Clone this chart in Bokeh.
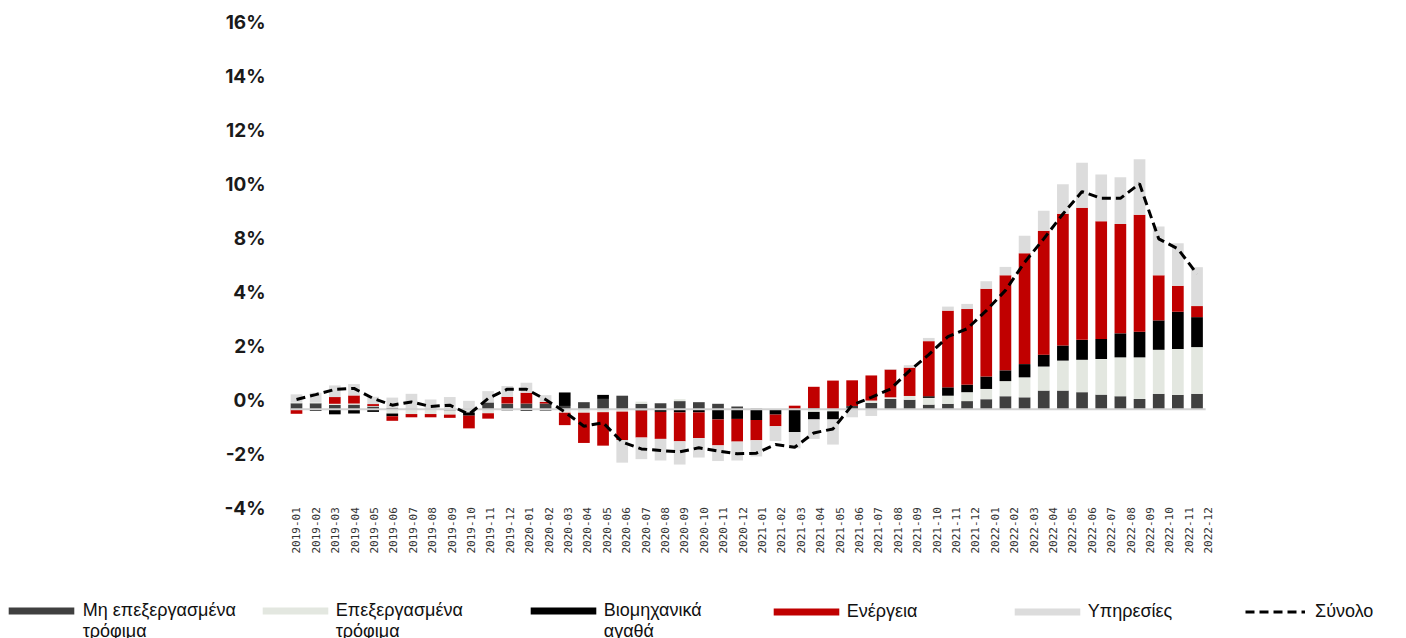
import numpy as np
from bokeh.plotting import figure
from bokeh.models import Range1d, LinearAxis, FixedTicker, Legend, LegendItem
from bokeh.embed import file_html
from bokeh.resources import INLINE

months = [f"{y}-{m:02d}" for y in range(2019, 2023) for m in range(1, 13)]

unprocessed = [0.22, 0.22, 0.16, 0.17, 0.10, 0.05, 0.02, 0.02, -0.05, 0.00, 0.25, 0.20,
               0.21, 0.21, 0.12, 0.26, 0.38, 0.50, 0.20, 0.22, 0.30, 0.26, 0.20, 0.10,
               0.02, 0.00, 0.00, 0.04, 0.00, 0.12, 0.23, 0.38, 0.35, 0.17, 0.20, 0.30,
               0.37, 0.48, 0.44, 0.69, 0.69, 0.63, 0.54, 0.48, 0.38, 0.57, 0.53, 0.57]
processed = [0.03, 0.03, 0.04, 0.04, 0.02, -0.16, -0.18, -0.18, -0.15, -0.12, -0.15, 0.01,
             0.00, 0.00, -0.13, -0.13, -0.11, -0.09, 0.08, 0.00, 0.07, 0.00, 0.00, 0.00,
             0.00, 0.00, 0.00, -0.10, -0.08, 0.00, 0.09, 0.06, 0.14, 0.25, 0.30, 0.33,
             0.38, 0.56, 0.74, 0.89, 1.11, 1.20, 1.32, 1.44, 1.54, 1.63, 1.70, 1.73]
industrial = [0.00, -0.06, -0.19, -0.16, -0.10, -0.10, 0.00, 0.00, 0.00, -0.12, 0.00, -0.04,
              -0.06, -0.05, 0.50, 0.00, 0.15, 0.00, -0.05, -0.10, -0.12, -0.12, -0.38, -0.36,
              -0.40, -0.20, -0.85, -0.28, -0.30, 0.00, 0.00, 0.00, 0.00, 0.06, 0.31, 0.28,
              0.46, 0.40, 0.49, 0.44, 0.56, 0.74, 0.74, 0.89, 0.95, 1.09, 1.38, 1.11]
energy = [-0.17, 0.00, 0.25, 0.30, 0.07, -0.17, -0.12, -0.12, -0.12, -0.47, -0.20, 0.25,
          0.40, 0.06, -0.46, -1.12, -1.24, -1.05, -1.00, -1.00, -1.07, -0.95, -0.96, -0.84,
          -0.75, -0.43, 0.13, 0.79, 1.06, 0.95, 0.93, 1.03, 1.05, 2.04, 2.84, 2.80,
          3.25, 3.52, 4.11, 4.59, 4.88, 4.89, 4.36, 4.05, 4.33, 1.67, 0.96, 0.41]
services = [0.30, 0.36, 0.43, 0.42, 0.27, 0.38, 0.55, 0.34, 0.45, 0.31, 0.42, 0.40,
            0.37, 0.25, 0.00, 0.00, 0.00, -0.84, -0.80, -0.80, -0.86, -0.72, -0.58, -0.70,
            -0.60, -0.55, -0.60, -0.72, -0.93, -0.30, -0.25, 0.02, 0.09, 0.12, 0.15, 0.19,
            0.28, 0.31, 0.64, 0.74, 1.09, 1.67, 1.73, 1.73, 2.06, 1.81, 1.58, 1.44]
total = [0.36, 0.54, 0.73, 0.77, 0.40, 0.15, 0.27, 0.10, 0.15, -0.19, 0.40, 0.74,
         0.74, 0.36, -0.10, -0.63, -0.50, -1.22, -1.47, -1.53, -1.58, -1.43, -1.55, -1.65,
         -1.63, -1.31, -1.41, -0.88, -0.73, 0.15, 0.44, 0.75, 1.43, 2.02, 2.69, 2.98,
         3.65, 4.40, 5.44, 6.31, 7.23, 8.06, 7.81, 7.81, 8.35, 6.31, 5.94, 5.01]

series_names = ["Μη επεξεργασμένα\nτρόφιμα", "Επεξεργασμένα\nτρόφιμα", "Βιομηχανικά\nαγαθά",
                "Ενέργεια", "Υπηρεσίες"]
total_name = "Σύνολο"
y_tick_labels = ["-4%", "-2%", "0%", "2%", "4%", "8%", "10%", "12%", "14%", "16%"]

colors = ["#404040", "#e3e7e0", "#000000", "#c00000", "#dcdcdc"]

# tick labels in the original sit slightly above their grid positions
label_shift = 0.32
y_ticks = [-4 + 2 * k + label_shift for k in range(len(y_tick_labels))]

W, H = 1406, 638
BAR_PX, LAB_PX, Y_PX = 19.16, 19.40, 27.0      # pixels per month / per month label / per 1 %
X0, Y0 = 296.0, 408.7                           # pixel position of first month and of zero
xs = -X0 / BAR_PX
ye = Y0 / Y_PX
p = figure(width=W, height=H, output_backend="svg", toolbar_location=None,
           x_range=Range1d(xs, xs + W / BAR_PX), y_range=Range1d(ye - H / Y_PX, ye),
           x_axis_location=None, y_axis_location=None,
           min_border_left=0, min_border_right=0, min_border_top=0, min_border_bottom=0)
p.outline_line_color = None
p.xgrid.visible = False
p.ygrid.visible = False
p.background_fill_color = "white"

x = np.arange(len(months))
pos_base = np.zeros(len(months))
neg_base = np.zeros(len(months))
renderers = []
for vals, col in zip([unprocessed, processed, industrial, energy, services], colors):
    v = np.array(vals, dtype=float)
    pos = np.clip(v, 0, None)
    neg = np.clip(v, None, 0)
    bottom = np.where(v >= 0, pos_base, neg_base)
    top = np.where(v >= 0, pos_base + pos, neg_base + neg)
    pos_base = pos_base + pos
    neg_base = neg_base + neg
    r = p.vbar(x=x, bottom=bottom, top=top, width=0.61, fill_color=col, line_color=None)
    renderers.append(r)

# zero line over the bars
p.line(x=[x[0] - 0.33, x[-1] + 0.45], y=[0, 0], line_color="#d2d2d2", line_width=2)

tot = p.line(x=x, y=total, line_color="black", line_width=3, line_dash="9 5")

# y axis, drawn at a fixed place so that the frame spans the whole figure
ya = LinearAxis(fixed_location=(280 - X0) / BAR_PX)
ya.ticker = FixedTicker(ticks=y_ticks)
ya.major_label_overrides = {t: l for t, l in zip(y_ticks, y_tick_labels)}
ya.axis_line_color = None
ya.major_tick_line_color = None
ya.minor_tick_line_color = None
ya.major_tick_out = 0
ya.major_tick_in = 0
ya.major_label_standoff = 15
ya.major_label_text_font = "Inter"
ya.major_label_text_font_style = "bold"
ya.major_label_text_font_size = "19px"
ya.major_label_text_color = "#1a1a1a"
p.add_layout(ya, "left")

# x axis (labels are spaced slightly wider than the bars in the original)
p.extra_x_ranges = {"lab": Range1d(-X0 / LAB_PX, (W - X0) / LAB_PX)}
xa = LinearAxis(x_range_name="lab", fixed_location=-(504.7 - Y0) / Y_PX)
xa.ticker = FixedTicker(ticks=list(range(len(months))))
xa.major_label_overrides = {i: m for i, m in enumerate(months)}
xa.major_label_orientation = np.pi / 2
xa.axis_line_color = None
xa.major_tick_line_color = None
xa.minor_tick_line_color = None
xa.major_tick_out = 0
xa.major_tick_in = 0
xa.major_label_standoff = 2
xa.major_label_text_font = "DejaVu Sans Mono"
xa.major_label_text_font_size = "11px"
xa.major_label_text_color = "#333333"
p.add_layout(xa, "below")

# legends, one per entry, spread across the bottom; the swatch sits beside the
# first text line, so two-line labels get an empty line above to centre it there
legend_left = [8, 262, 530, 773, 1014, 1245]
text_left = [83, 336, 603, 847, 1087, 1315]
first_line_top = 602
font_px = 18
line_h = font_px * 1.12
swatch_w, swatch_h = 66, 7
items = list(zip(series_names, renderers)) + [(total_name, tot)]
for (name, r), lx, tx in zip(items, legend_left, text_left):
    n_text = name.count("\n") + 1
    label = ("\n" + name) if n_text > 1 else name
    n_lines = label.count("\n") + 1
    top = first_line_top - (n_lines - n_text) * line_h
    is_line = r is tot
    if is_line:
        gw, gh, gx = 60, swatch_h, lx
    else:
        # box legend glyphs are drawn with a 10 % inset on each side
        gw, gh = swatch_w / 0.8, swatch_h / 0.8
        gx = lx - 0.1 * gw
    lg = Legend(items=[LegendItem(label=label, renderers=[r])],
                location=(gx, H - top - n_lines * line_h),
                orientation="horizontal",
                glyph_width=int(round(gw)), glyph_height=int(round(gh)),
                label_standoff=int(round(tx - gx - gw)),
                padding=0, margin=0, spacing=0,
                border_line_color=None, background_fill_alpha=0,
                label_text_font="Liberation Sans", label_text_font_size=f"{font_px}px",
                label_text_color="#111111", label_text_line_height=1.12)
    p.add_layout(lg, "center")

open("out.html", "w").write(file_html(p, INLINE))
